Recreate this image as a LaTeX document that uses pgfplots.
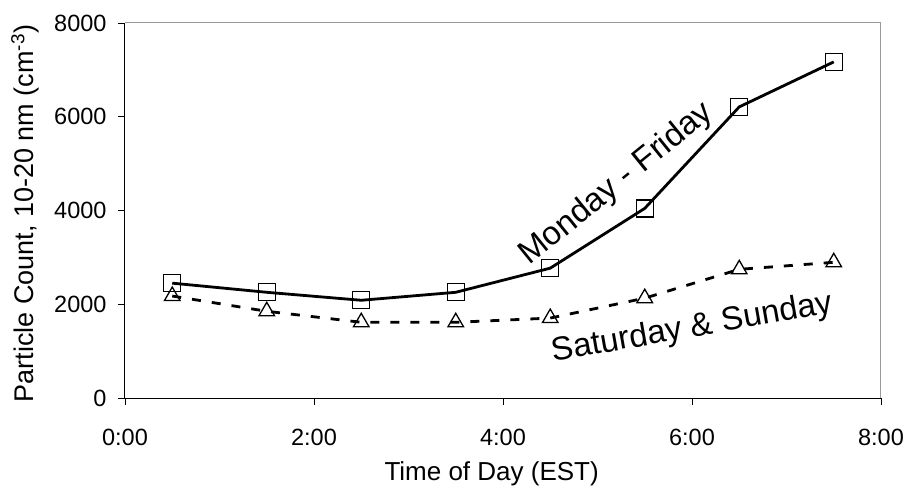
\documentclass[border=0pt]{standalone}
\usepackage{fontspec}
\setmainfont{Liberation Sans}
\usepackage{pgfplots}
\pgfplotsset{compat=1.18}
\begin{document}
\begin{tikzpicture}
\useasboundingbox (0,0) rectangle (906pt,491pt);
\begin{axis}[
  at={(125pt,93pt)}, anchor=south west,
  scale only axis, width=756pt, height=375pt,
  xmin=0, xmax=8, ymin=0, ymax=8000,
  axis x line*=bottom, axis y line*=left,
  axis line style={line width=1pt, black},
  xtick={0,2,4,6,8}, xticklabels={0:00,2:00,4:00,6:00,8:00},
  ytick={0,2000,4000,6000,8000}, yticklabels={0,2000,4000,6000,8000},
  tick align=outside, major tick length=7pt,
  tick style={line width=0.8pt, black},
  /pgf/number format/assume math mode=true,
  ticklabel style={font=\fontsize{23.5pt}{28pt}\selectfont},
  xticklabel style={yshift=-21pt},
  yticklabel style={xshift=-8pt},
  xlabel={Time of Day (EST)},
  ylabel={Particle Count, 10-20 nm (cm\textsuperscript{-3})},
  xlabel style={at={(axis description cs:0.485,-0.203)}, anchor=center, font=\fontsize{26pt}{30pt}\selectfont},
  ylabel style={at={(axis description cs:-0.132,0.492)}, anchor=center, font=\fontsize{27pt}{32pt}\selectfont},
  clip=false,
]
\draw[gray!80, line width=1pt] (rel axis cs:0,1) -- (rel axis cs:1,1) -- (rel axis cs:1,0);
\addplot[black, line width=2.8pt, mark=square, mark size=8.5pt,
  mark options={line width=1.3pt, solid, fill=none}]
  coordinates {(0.5,2450) (1.5,2255) (2.5,2085) (3.5,2255) (4.5,2770) (5.5,4045) (6.5,6210) (7.5,7170)};
\addplot[black, line width=2.8pt, dash pattern=on 9pt off 11pt, mark=triangle, mark size=9pt,
  mark options={line width=1.3pt, solid, fill=none}]
  coordinates {(0.5,2175) (1.5,1850) (2.5,1615) (3.5,1615) (4.5,1705) (5.5,2130) (6.5,2745) (7.5,2895)};
\node[rotate=39, anchor=base, font=\fontsize{33pt}{38pt}\selectfont] at (axis cs:5.26,4417) {Monday - Friday};
\node[rotate=10, anchor=base, font=\fontsize{33pt}{38pt}\selectfont] at (axis cs:6.02,1300) {Saturday \& Sunday};
\end{axis}
\end{tikzpicture}
\end{document}
